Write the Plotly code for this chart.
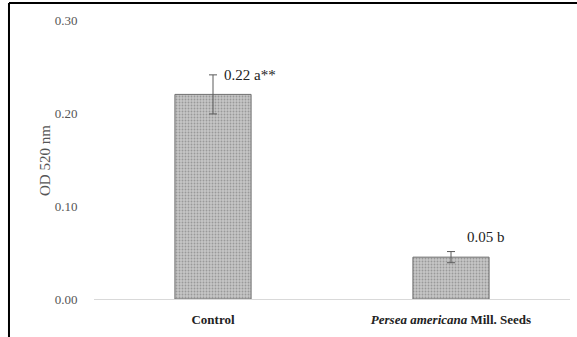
import plotly.graph_objects as go

categories = ["<b>Control</b>", "<b><i>Persea americana</i> Mill. Seeds</b>"]
values = [0.22, 0.045]
errors = [0.021, 0.006]
labels = ["0.22 a**", "0.05 b"]
yticks = [0.0, 0.1, 0.2, 0.3]

fig = go.Figure()
fig.add_trace(go.Bar(
    x=categories, y=values,
    width=0.32,
    marker=dict(color="#bdbdbd", line=dict(color="#6f6f6f", width=1),
                pattern=dict(shape=".", fgcolor="#999999", bgcolor="#c6c6c6", size=3, solidity=0.3)),
    error_y=dict(type="data", array=errors, visible=True, color="#5a5a5a", thickness=1, width=4),
    showlegend=False,
))

# value labels
shifts = [(9, 0.0), (14, 0.016)]
for c, v, e, t, (sx, dy) in zip(categories, values, errors, labels, shifts):
    fig.add_annotation(x=c, y=v + e + dy, text=t, showarrow=False, xanchor="left", yanchor="middle",
                       xshift=sx, font=dict(family="Liberation Serif", size=15, color="#222222"))

fig.add_annotation(xref="paper", yref="paper", x=-0.124, y=0.498, text="OD 520 nm", textangle=-90,
                   showarrow=False, font=dict(family="Liberation Serif", size=15, color="#555555"))

# outer frame (left and top edges)
fig.add_shape(type="line", xref="paper", yref="paper", x0=-0.1786, x1=-0.1786, y0=-0.2, y1=1.061,
              line=dict(color="black", width=2))
fig.add_shape(type="line", xref="paper", yref="paper", x0=-0.1786, x1=1.1, y0=1.061, y1=1.061,
              line=dict(color="black", width=2))

fig.update_layout(
    template="none",
    width=577, height=337,
    margin=dict(l=94, r=7, t=20, b=38),
    plot_bgcolor="white", paper_bgcolor="white",
    font=dict(family="Liberation Serif", size=11, color="#555555"),
)
fig.update_xaxes(showline=True, linecolor="#d9d9d9", linewidth=1, showgrid=False, zeroline=False,
                 ticks="outside", ticklen=8, tickcolor="white",
                 tickfont=dict(family="Liberation Serif", size=13, color="#222222"))
fig.update_yaxes(range=[0, 0.30], tickvals=yticks, tickformat=".2f", showgrid=False, zeroline=False,
                 showline=False, ticks="outside", ticklen=13, tickcolor="white",
                 tickfont=dict(family="Liberation Serif", size=13, color="#555555"))

fig.write_html("out.html")
